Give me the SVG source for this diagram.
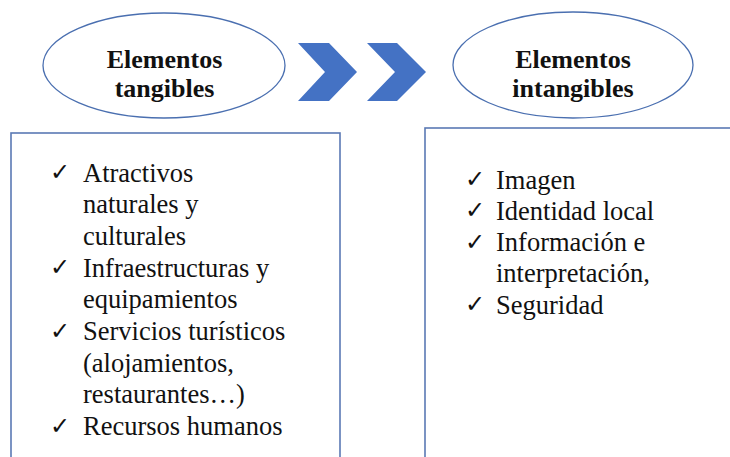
<svg xmlns="http://www.w3.org/2000/svg" width="730" height="457" viewBox="0 0 730 457">
<style>
.ell{fill:#fff;stroke:#4a6fb0;stroke-width:1.3}
.box{fill:#fff;stroke:#5a79b4;stroke-width:1.6}
.chev{fill:#4472c4}
.ttl{font-weight:bold;font-size:26px;fill:#111;text-anchor:middle}
.itm{font-size:26.5px;fill:#111}
.chk{font-size:24px;fill:#111}
</style>
<rect width="730" height="457" fill="#fff"/>
<g id="tangibles-box" font-family="Liberation Serif, Times New Roman, DejaVu Serif, serif">
<rect class="box" x="11" y="133" width="329" height="340"/>
<text class="chk" x="50" y="180" font-family="DejaVu Sans, sans-serif">✓</text>
<text class="itm" x="83" y="181.5">Atractivos</text>
<text class="itm" x="83" y="213.2">naturales y</text>
<text class="itm" x="83" y="244.9">culturales</text>
<text class="chk" x="50" y="275" font-family="DejaVu Sans, sans-serif">✓</text>
<text class="itm" x="83" y="276.6">Infraestructuras y</text>
<text class="itm" x="83" y="308.3">equipamientos</text>
<text class="chk" x="50" y="338.5" font-family="DejaVu Sans, sans-serif">✓</text>
<text class="itm" x="83" y="340">Servicios turísticos</text>
<text class="itm" x="83" y="371.7">(alojamientos,</text>
<text class="itm" x="83" y="403.4">restaurantes…)</text>
<text class="chk" x="50" y="433.5" font-family="DejaVu Sans, sans-serif">✓</text>
<text class="itm" x="83" y="435">Recursos humanos</text>
</g>
<g id="intangibles-box" font-family="Liberation Serif, Times New Roman, DejaVu Serif, serif">
<rect class="box" x="425" y="128" width="320" height="345"/>
<text class="chk" x="465" y="187" font-family="DejaVu Sans, sans-serif">✓</text>
<text class="itm" x="496" y="188.5">Imagen</text>
<text class="chk" x="465" y="218.3" font-family="DejaVu Sans, sans-serif">✓</text>
<text class="itm" x="496" y="219.8">Identidad local</text>
<text class="chk" x="465" y="249.5" font-family="DejaVu Sans, sans-serif">✓</text>
<text class="itm" x="496" y="251.1">Información e</text>
<text class="itm" x="496" y="282.4">interpretación,</text>
<text class="chk" x="465" y="312.2" font-family="DejaVu Sans, sans-serif">✓</text>
<text class="itm" x="496" y="313.7">Seguridad</text>
</g>
<g id="tangibles-ellipse" font-family="Liberation Serif, Times New Roman, DejaVu Serif, serif">
<ellipse class="ell" cx="164" cy="65.5" rx="121" ry="52.5"/>
<text class="ttl" x="164.5" y="68">Elementos</text>
<text class="ttl" x="164.5" y="96.5">tangibles</text>
</g>
<g id="intangibles-ellipse" font-family="Liberation Serif, Times New Roman, DejaVu Serif, serif">
<ellipse class="ell" cx="573" cy="65" rx="120" ry="53"/>
<text class="ttl" x="573" y="68">Elementos</text>
<text class="ttl" x="573" y="96.5">intangibles</text>
</g>
<g id="connectors">
<polygon class="chev" points="298,43 329,43 357,72 329,101 298,101 325,72"/>
<polygon class="chev" points="367,43 397,43 426,72 397,101 367,101 395,72"/>
</g>
</svg>
